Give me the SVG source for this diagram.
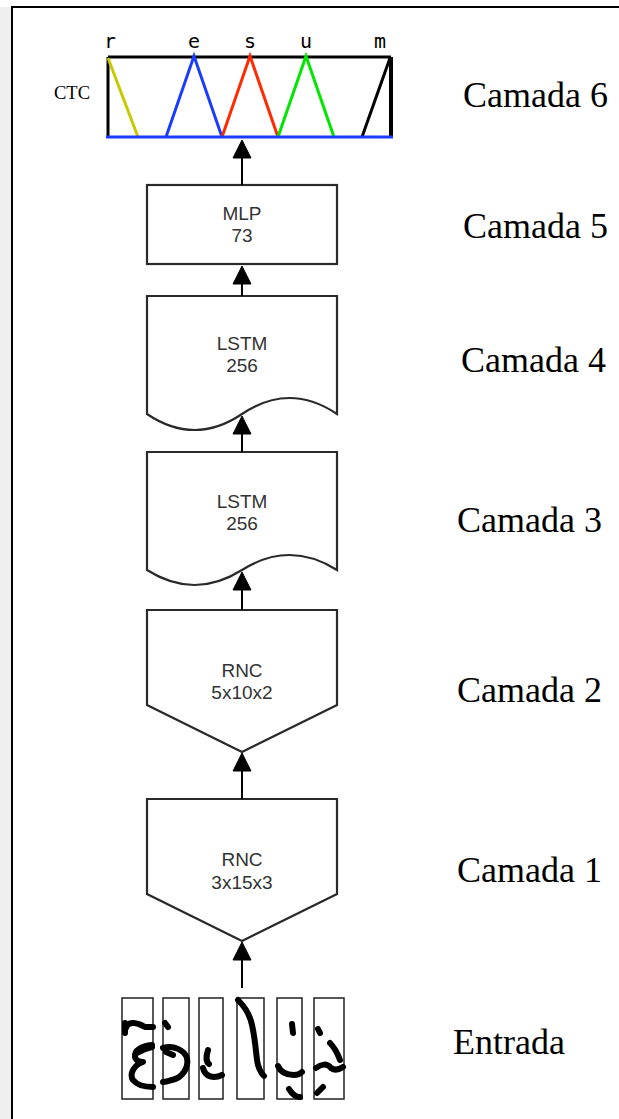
<svg xmlns="http://www.w3.org/2000/svg" width="619" height="1119" viewBox="0 0 619 1119">
<style>
.node{fill:#fff;stroke:#2a2a2a;stroke-width:2.2}
.lbl{font-family:"Liberation Sans",Arial,sans-serif;font-size:19px;fill:#333;text-anchor:middle}
.cam{font-family:"Liberation Serif","Times New Roman",serif;font-size:36px;fill:#000}
.mono{font-family:"DejaVu Sans Mono",monospace;font-size:20px;fill:#000;text-anchor:middle}
.conn line{stroke:#000;stroke-width:2}
.conn polygon{fill:#000;stroke:#000;stroke-width:1}
.hw{fill:none;stroke:#000;stroke-width:6;stroke-linecap:round;stroke-linejoin:round}
.img{fill:#fff;stroke:#222;stroke-width:1.5}
</style>
<rect x="0" y="0" width="619" height="1119" fill="#fff"/>
<rect x="0" y="7" width="11" height="1112" fill="#efefef"/>
<path d="M12,1119 V7 H619" fill="none" stroke="#000" stroke-width="2"/>

<g id="ctc">
  <rect x="108" y="57" width="283" height="80" fill="#fff" stroke="none"/>
  <line x1="108" y1="57" x2="391" y2="57" stroke="#000" stroke-width="3"/>
  <line x1="108" y1="57" x2="108" y2="137" stroke="#000" stroke-width="3"/>
  <line x1="391" y1="57" x2="391" y2="137" stroke="#000" stroke-width="4"/>
  <line x1="108" y1="58" x2="138" y2="137" stroke="#c8c800" stroke-width="3"/>
  <polyline points="166,137 194,56 222,137" fill="none" stroke="#1a3cff" stroke-width="3"/>
  <polyline points="222,137 250,56 278,137" fill="none" stroke="#ff2a00" stroke-width="3"/>
  <polyline points="278,137 306,56 334,137" fill="none" stroke="#00e600" stroke-width="3"/>
  <line x1="362" y1="137" x2="390" y2="58" stroke="#000" stroke-width="3"/>
  <line x1="106" y1="137" x2="393" y2="137" stroke="#1a3cff" stroke-width="3"/>
  <text class="mono" x="110" y="48">r</text>
  <text class="mono" x="194" y="48">e</text>
  <text class="mono" x="250" y="48">s</text>
  <text class="mono" x="306" y="48">u</text>
  <text class="mono" x="380" y="48">m</text>
  <text x="54" y="99" font-family="Liberation Serif,Times New Roman,serif" font-size="18.5" fill="#000">CTC</text>
</g>

<g id="mlp">
  <rect class="node" x="147" y="185" width="190" height="79"/>
  <text class="lbl" x="242" y="220">MLP</text>
  <text class="lbl" x="242" y="242">73</text>
</g>

<g id="lstm4">
  <path class="node" d="M147,296 H337 V414 Q289.5,382 242,414 Q194.5,446 147,414 Z"/>
  <text class="lbl" x="242" y="350">LSTM</text>
  <text class="lbl" x="242" y="372">256</text>
</g>

<g id="lstm3">
  <path class="node" d="M147,452 H337 V570 Q289.5,540 242,570 Q194.5,600 147,570 Z"/>
  <text class="lbl" x="242" y="508">LSTM</text>
  <text class="lbl" x="242" y="530">256</text>
</g>

<g id="rnc2">
  <path class="node" d="M147,610 H337 V705 L242,752 L147,705 Z"/>
  <text class="lbl" x="242" y="677">RNC</text>
  <text class="lbl" x="242" y="699">5x10x2</text>
</g>

<g id="rnc1">
  <path class="node" d="M147,799 H337 V894 L242,941 L147,894 Z"/>
  <text class="lbl" x="242" y="866">RNC</text>
  <text class="lbl" x="242" y="889">3x15x3</text>
</g>

<g id="entrada">
  <rect class="img" x="122" y="998" width="31" height="101"/>
  <rect class="img" x="163" y="998" width="26" height="101"/>
  <rect class="img" x="199" y="998" width="24" height="101"/>
  <rect class="img" x="237" y="998" width="27" height="101"/>
  <rect class="img" x="277" y="998" width="25" height="101"/>
  <rect class="img" x="314" y="998" width="30" height="101"/>
  <path class="hw" d="M125,1023 L125,1033 M126,1028 C128,1020 138,1023 145,1027 L153,1027"/>
  <path class="hw" d="M152,1045 C142,1046 134,1050 135,1057 C136,1061 141,1062 143,1062 C134,1065 129,1074 133,1080 C137,1085 146,1087 153,1087"/>
  <path class="hw" d="M137,1053 C142,1050 147,1048 152,1047" stroke-width="2.5"/>
  <path class="hw" d="M165,1023 L168,1027"/>
  <path class="hw" d="M163,1048 C174,1045 184,1050 187,1058 C189,1068 182,1078 172,1080 C168,1081 165,1082 163,1082"/>
  <path class="hw" d="M166,1052 L173,1055" stroke-width="3"/>
  <path class="hw" d="M208,1050 C206,1056 206,1062 209,1064"/>
  <path class="hw" d="M203,1068 C205,1077 214,1079 222,1075"/>
  <path class="hw" d="M238,1000 C245,1007 250,1015 252,1025 C255,1038 256,1052 257,1060 C258,1067 260,1072 264,1076"/>
  <path class="hw" d="M292,1024 L293,1033" stroke-width="8"/>
  <path class="hw" d="M278,1066 C281,1073 287,1075 294,1075 C298,1075 300,1074 302,1072"/>
  <path class="hw" d="M289,1089 C292,1094 296,1097 300,1097"/>
  <path class="hw" d="M318,1029 L320,1033"/>
  <path class="hw" d="M330,1043 C334,1047 337,1052 340,1060"/>
  <path class="hw" d="M316,1068 C321,1064 327,1063 331,1068 C335,1071 340,1069 343,1067"/>
  <path class="hw" d="M317,1093 L323,1087"/>
</g>

<g id="connectors" class="conn">
  <line x1="242" y1="185" x2="242" y2="156"/>
  <polygon points="242,140 233,158 251,158"/>
  <line x1="242" y1="296" x2="242" y2="282"/>
  <polygon points="242,266 233,284 251,284"/>
  <line x1="242" y1="452" x2="242" y2="432"/>
  <polygon points="242,416 233,434 251,434"/>
  <line x1="242" y1="610" x2="242" y2="588"/>
  <polygon points="242,572 233,590 251,590"/>
  <line x1="242" y1="799" x2="242" y2="769"/>
  <polygon points="242,753 233,771 251,771"/>
  <line x1="242" y1="988" x2="242" y2="958"/>
  <polygon points="242,942 233,960 251,960"/>
</g>

<g id="labels">
  <text class="cam" x="463" y="107">Camada 6</text>
  <text class="cam" x="463" y="238">Camada 5</text>
  <text class="cam" x="461" y="372">Camada 4</text>
  <text class="cam" x="457" y="532">Camada 3</text>
  <text class="cam" x="457" y="702">Camada 2</text>
  <text class="cam" x="457" y="882">Camada 1</text>
  <text class="cam" x="453" y="1054">Entrada</text>
</g>
</svg>
